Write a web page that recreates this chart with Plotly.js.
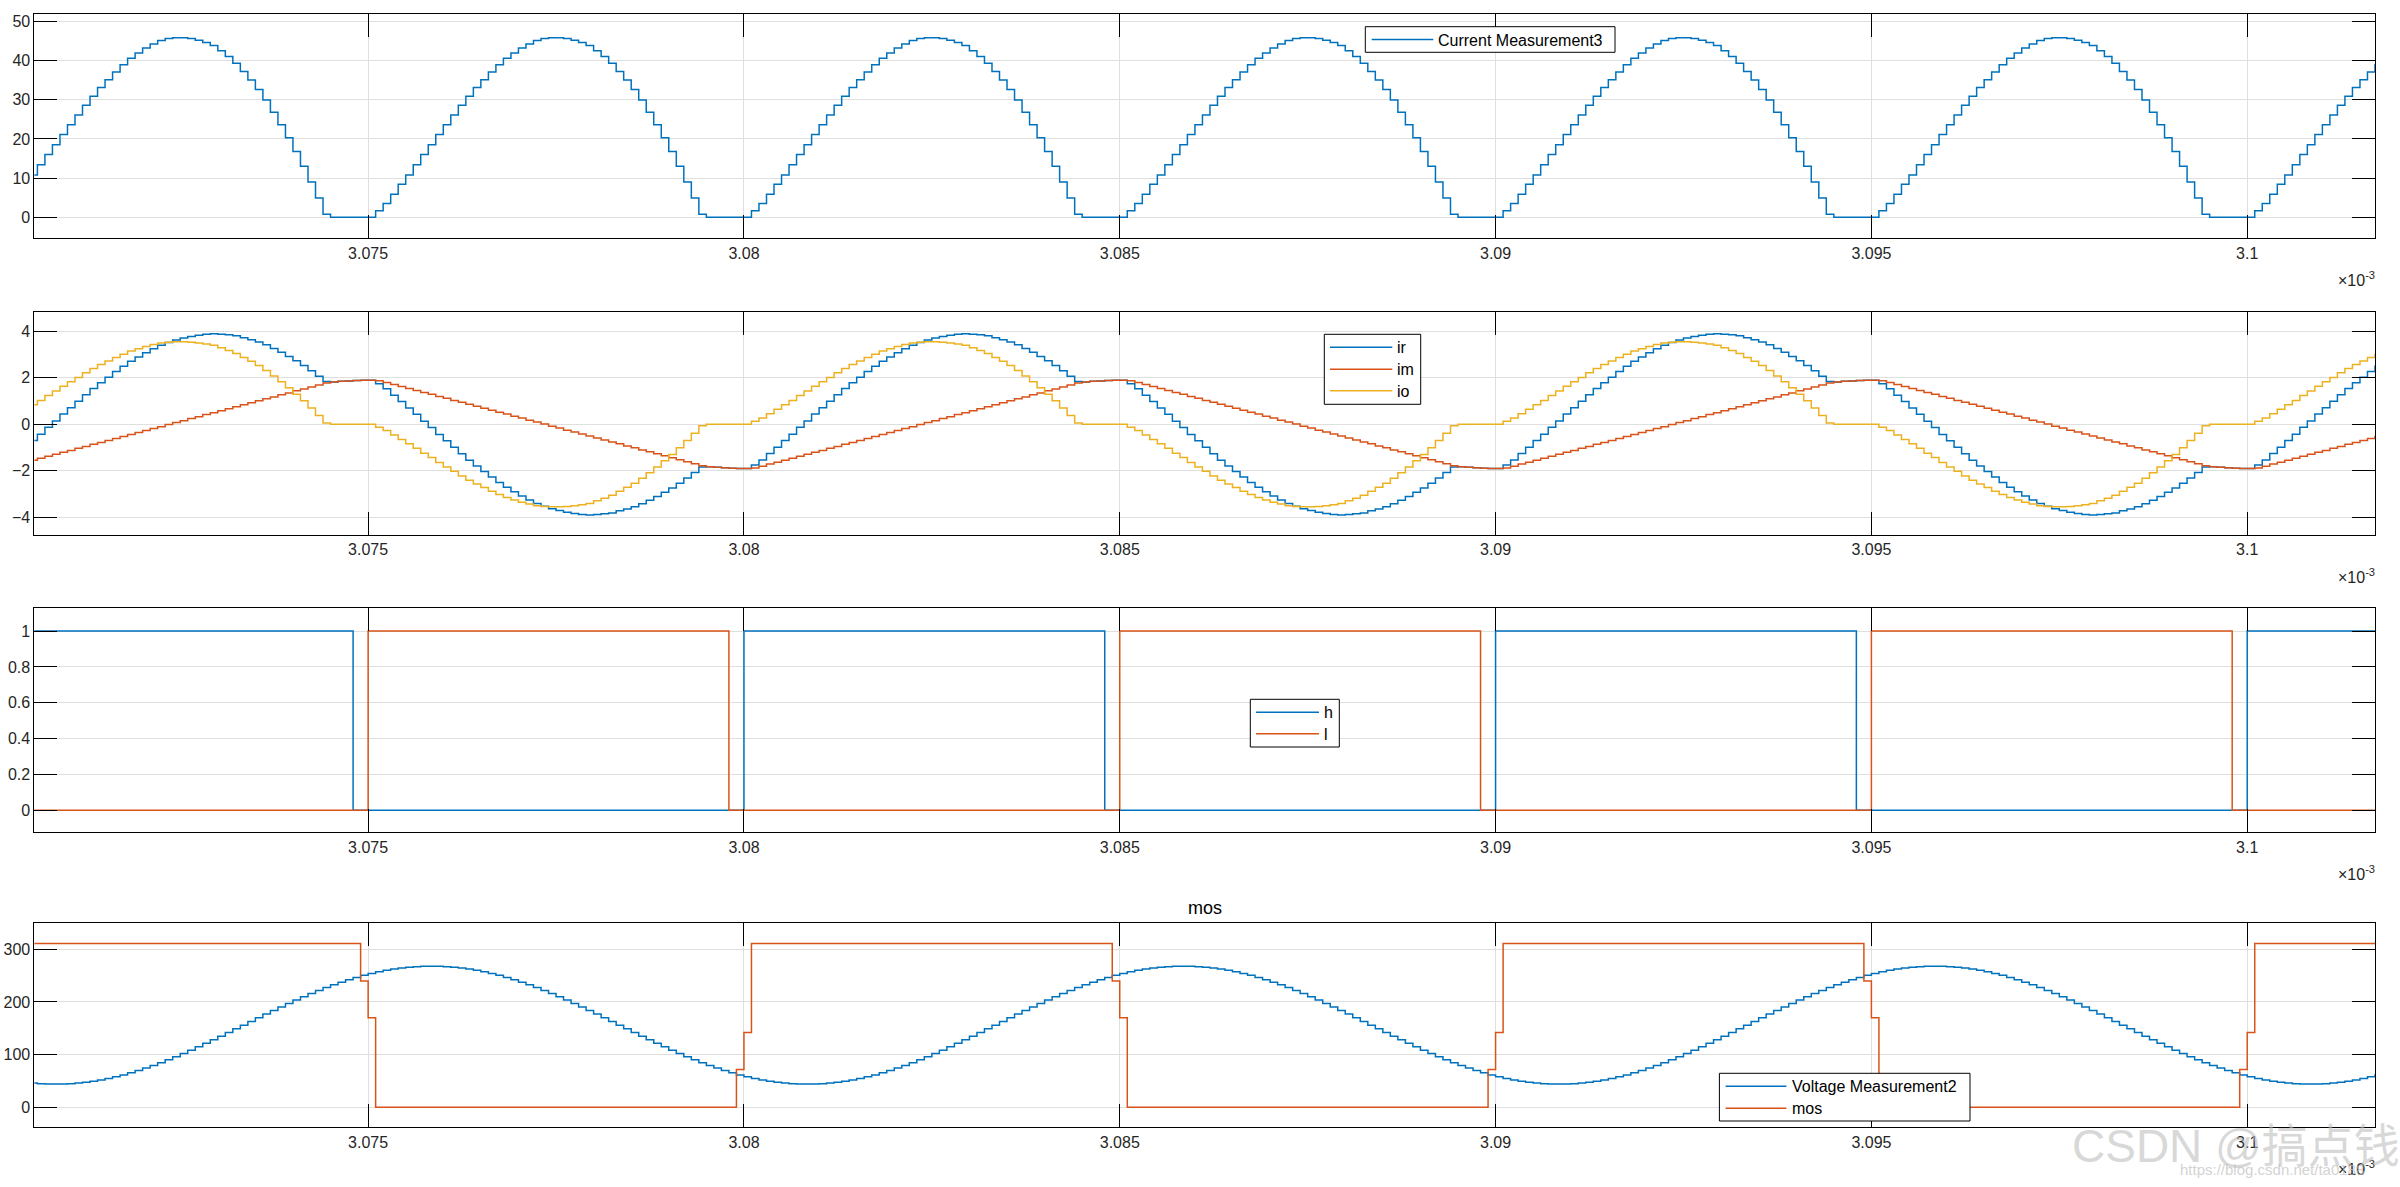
<!DOCTYPE html>
<html>
<head>
<meta charset="utf-8">
<script src="https://cdn.plot.ly/plotly-3.0.1.min.js"></script>
<style>html,body{margin:0;padding:0;background:#fff}#chart{width:2400px;height:1187px}</style>
</head>
<body>
<div id="chart"></div>
<script>
// ---------------- DATA ----------------
// time axis in units of 1e-3 s; waveforms are sampled every sampleStep
const sampleStep = 0.0001;
const timeFrom = 3.0700;
const timeTo = 3.1020;
const xTickVals = [3.075, 3.08, 3.085, 3.09, 3.095, 3.1];
const xTickText = ['3.075', '3.08', '3.085', '3.09', '3.095', '3.1'];

// one period of each staircase waveform, first sample at periodStart
const periodStart = 3.0701;
const currentMeas3Period = [1.7, 3.5, 5.9, 8.4, 10.8, 13.4, 16.0, 18.5, 21.1, 23.6, 26.1, 28.6, 30.9, 33.1, 35.1, 37.1, 38.9, 40.6, 41.9, 43.2, 44.2, 45.1, 45.6, 45.8, 45.8, 45.6, 45.2, 44.6, 43.8, 42.5, 41.0, 39.3, 37.2, 35.0, 32.6, 29.9, 26.8, 23.6, 20.3, 16.8, 13.0, 9.0, 4.9, 0.8, 0, 0, 0, 0, 0, 0];

const irPeriod = [-1.75, -1.53, -1.25, -0.98, -0.70, -0.43, -0.13, 0.14, 0.44, 0.71, 0.99, 1.27, 1.54, 1.79, 2.03, 2.27, 2.50, 2.71, 2.90, 3.08, 3.25, 3.40, 3.52, 3.63, 3.71, 3.78, 3.83, 3.88, 3.90, 3.88, 3.85, 3.81, 3.72, 3.64, 3.54, 3.42, 3.26, 3.10, 2.92, 2.74, 2.53, 2.31, 2.07, 1.84, 1.82, 1.85, 1.87, 1.89, 1.90, 1.90,
  1.75, 1.53, 1.25, 0.98, 0.70, 0.43, 0.13, -0.14, -0.44, -0.71, -0.99, -1.27, -1.54, -1.79, -2.03, -2.27, -2.50, -2.71, -2.90, -3.08, -3.25, -3.40, -3.52, -3.63, -3.71, -3.78, -3.83, -3.88, -3.90, -3.88, -3.85, -3.81, -3.72, -3.64, -3.54, -3.42, -3.26, -3.10, -2.92, -2.74, -2.53, -2.31, -2.07, -1.84, -1.82, -1.85, -1.87, -1.89, -1.90, -1.90];

const imPeriod = [-1.88, -1.80, -1.71, -1.63, -1.54, -1.46, -1.37, -1.29, -1.20, -1.12, -1.03, -0.95, -0.86, -0.78, -0.69, -0.61, -0.52, -0.44, -0.35, -0.27, -0.18, -0.10, -0.01, 0.08, 0.16, 0.25, 0.33, 0.42, 0.50, 0.59, 0.67, 0.76, 0.84, 0.93, 1.01, 1.10, 1.18, 1.27, 1.35, 1.44, 1.52, 1.61, 1.69, 1.78, 1.82, 1.85, 1.87, 1.89, 1.90, 1.90,
  1.88, 1.80, 1.71, 1.63, 1.54, 1.46, 1.37, 1.29, 1.20, 1.12, 1.03, 0.95, 0.86, 0.78, 0.69, 0.61, 0.52, 0.44, 0.35, 0.27, 0.18, 0.10, 0.01, -0.08, -0.16, -0.25, -0.33, -0.42, -0.50, -0.59, -0.67, -0.76, -0.84, -0.93, -1.01, -1.10, -1.18, -1.27, -1.35, -1.44, -1.52, -1.61, -1.69, -1.78, -1.82, -1.85, -1.87, -1.89, -1.90, -1.90];

const ioPeriod = [0.13, 0.27, 0.46, 0.65, 0.84, 1.03, 1.24, 1.43, 1.64, 1.83, 2.02, 2.22, 2.40, 2.57, 2.72, 2.88, 3.02, 3.15, 3.25, 3.35, 3.43, 3.50, 3.53, 3.55, 3.55, 3.53, 3.50, 3.46, 3.40, 3.29, 3.18, 3.05, 2.88, 2.71, 2.53, 2.32, 2.08, 1.83, 1.57, 1.30, 1.01, 0.70, 0.38, 0.06, 0, 0, 0, 0, 0, 0,
  -0.13, -0.27, -0.46, -0.65, -0.84, -1.03, -1.24, -1.43, -1.64, -1.83, -2.02, -2.22, -2.40, -2.57, -2.72, -2.88, -3.02, -3.15, -3.25, -3.35, -3.43, -3.50, -3.53, -3.55, -3.55, -3.53, -3.50, -3.46, -3.40, -3.29, -3.18, -3.05, -2.88, -2.71, -2.53, -2.32, -2.08, -1.83, -1.57, -1.30, -1.01, -0.70, -0.38, -0.06, 0, 0, 0, 0, 0, 0];

// Voltage Measurement2: one period, first sample at voltageStart
const voltageStart = 3.0708;
const voltageMeas2Period = [44.0, 44.2, 44.9, 46.0, 47.5, 49.5, 51.9, 54.7, 57.9, 61.4, 65.4, 69.7, 74.4, 79.3, 84.6, 90.2, 96.0, 102.0, 108.3, 114.8, 121.4, 128.1, 135.0, 142.0, 149.0, 156.0, 163.0, 170.0, 177.0, 183.9, 190.6, 197.2, 203.7, 210.0, 216.0, 221.8, 227.4, 232.7, 237.6, 242.3, 246.6, 250.6, 254.1, 257.3, 260.1, 262.5, 264.5, 266.0, 267.1, 267.8, 268.0,
  267.8, 267.1, 266.0, 264.5, 262.5, 260.1, 257.3, 254.1, 250.6, 246.6, 242.3, 237.6, 232.7, 227.4, 221.8, 216.0, 210.0, 203.7, 197.2, 190.6, 183.9, 177.0, 170.0, 163.0, 156.0, 149.0, 142.0, 135.0, 128.1, 121.4, 114.8, 108.3, 102.0, 96.0, 90.2, 84.6, 79.3, 74.4, 69.7, 65.4, 61.4, 57.9, 54.7, 51.9, 49.5, 47.5, 46.0, 44.9, 44.2];

// gate signals: switching instants and the level held from each instant
const hTimes = [3.0700, 3.0748, 3.0800, 3.0848, 3.0900, 3.0948, 3.1000, 3.1020];
const hLevels = [1, 0, 1, 0, 1, 0, 1, 1];
const lTimes = [3.0700, 3.0750, 3.0798, 3.0850, 3.0898, 3.0950, 3.0998, 3.1020];
const lLevels = [0, 1, 0, 1, 0, 1, 0, 0];

// mos voltage: instants and held levels
const mosTimes = [3.0700, 3.0749, 3.0750, 3.0751, 3.0799, 3.0800, 3.0801, 3.0849, 3.0850, 3.0851, 3.0899, 3.0900, 3.0901, 3.0949, 3.0950, 3.0951, 3.0999, 3.1000, 3.1001, 3.1020];
const mosLevels = [311, 240, 170, 0, 72, 142, 311, 240, 170, 0, 72, 142, 311, 240, 170, 0, 72, 142, 311, 311];

// ---------------- helpers ----------------
function repeatPeriod(vals, start) {
  const n = vals.length, x = [], y = [];
  const k0 = Math.floor((timeFrom - start) / sampleStep + 1e-6);
  const k1 = Math.ceil((timeTo - start) / sampleStep - 1e-6);
  for (let k = k0; k <= k1; k++) {
    x.push(+(start + k * sampleStep).toFixed(6));
    y.push(vals[((k % n) + n) % n]);
  }
  return {x, y};
}

const W = 2400, H = 1187;
const PX = v => v / W;
const PY = v => 1 - v / H;
const LEFT = 34.4, RIGHT = 2375;
const boxes = [[14.3, 238.3], [312.3, 535], [608.3, 832.3], [923.3, 1127.3]];

const BLUE = '#0072BD', ORANGE = '#D95319', YELLOW = '#EDB120';
const FONT = 'Liberation Sans, Arial, Helvetica, sans-serif';

function stepTrace(d, color, name, ax) {
  return {x: d.x, y: d.y, type: 'scatter', mode: 'lines', name: name,
    line: {color: color, width: 1.5, shape: 'hv'}, xaxis: 'x' + ax, yaxis: 'y' + ax,
    showlegend: false, hoverinfo: 'skip'};
}

const cm3 = repeatPeriod(currentMeas3Period, periodStart);
const ir = repeatPeriod(irPeriod, periodStart);
const im = repeatPeriod(imPeriod, periodStart);
const io = repeatPeriod(ioPeriod, periodStart);
const vm2 = repeatPeriod(voltageMeas2Period, voltageStart);

const traces = [
  stepTrace(cm3, BLUE, 'Current Measurement3', ''),
  stepTrace(ir, BLUE, 'ir', '2'),
  stepTrace(im, ORANGE, 'im', '2'),
  stepTrace(io, YELLOW, 'io', '2'),
  stepTrace({x: hTimes, y: hLevels}, BLUE, 'h', '3'),
  stepTrace({x: lTimes, y: lLevels}, ORANGE, 'l', '3'),
  stepTrace(vm2, BLUE, 'Voltage Measurement2', '4'),
  stepTrace({x: mosTimes, y: mosLevels}, ORANGE, 'mos', '4')
];
traces[0].xaxis = 'x'; traces[0].yaxis = 'y';

const yRanges = [[-5.36, 51.79], [-4.76, 4.82], [-0.123, 1.127], [-38, 349.4]];
const yTicks = [[0, 10, 20, 30, 40, 50], [-4, -2, 0, 2, 4], [0, 0.2, 0.4, 0.6, 0.8, 1], [0, 100, 200, 300]];

const layout = {
  width: W, height: H,
  margin: {l: 0, r: 0, t: 0, b: 0},
  paper_bgcolor: '#fff', plot_bgcolor: '#fff',
  font: {family: FONT, size: 16, color: '#262626'},
  showlegend: false,
  shapes: [], annotations: []
};

function axisCommon() {
  return {
    ticks: 'inside', ticklen: 23, tickwidth: 1, tickcolor: '#000',
    showline: true, linecolor: '#000', linewidth: 1, mirror: 'ticks',
    showgrid: true, gridcolor: '#dfdfdf', gridwidth: 1, zeroline: false,
    tickfont: {family: FONT, size: 16, color: '#262626'},
    fixedrange: true, automargin: false
  };
}

for (let i = 0; i < 4; i++) {
  const s = i === 0 ? '' : String(i + 1);
  layout['xaxis' + s] = Object.assign(axisCommon(), {
    domain: [PX(LEFT), PX(RIGHT)], range: [3.07056, 3.1017],
    tickmode: 'array', tickvals: xTickVals, ticktext: xTickText,
    anchor: 'y' + s
  });
  layout['yaxis' + s] = Object.assign(axisCommon(), {
    domain: [PY(boxes[i][1]), PY(boxes[i][0])], range: yRanges[i],
    tickmode: 'array', tickvals: yTicks[i],
    anchor: 'x' + s
  });
  layout.annotations.push({
    xref: 'paper', yref: 'paper', x: PX(RIGHT + 2), y: PY(boxes[i][1] + 41),
    xanchor: 'right', yanchor: 'middle', showarrow: false,
    text: '×10<sup>-3</sup>', font: {family: FONT, size: 16, color: '#262626'}
  });
}

// subplot title
layout.annotations.push({
  xref: 'paper', yref: 'paper', x: PX((LEFT + RIGHT) / 2), y: PY(908),
  xanchor: 'center', yanchor: 'middle', showarrow: false,
  text: 'mos', font: {family: FONT, size: 18, color: '#000'}
});

// MATLAB-style legends
function legendBox(x0, y0, x1, y1, lineX0, lineX1, textX, items) {
  layout.shapes.push({type: 'rect', xref: 'paper', yref: 'paper', x0: PX(x0), x1: PX(x1), y0: PY(y1), y1: PY(y0),
    line: {color: '#000', width: 1}, fillcolor: '#fff', layer: 'above'});
  items.forEach(it => {
    layout.shapes.push({type: 'line', xref: 'paper', yref: 'paper', x0: PX(lineX0), x1: PX(lineX1), y0: PY(it.y), y1: PY(it.y),
      line: {color: it.color, width: 1.5}, layer: 'above'});
    layout.annotations.push({xref: 'paper', yref: 'paper', x: PX(textX), y: PY(it.y + 0.5),
      xanchor: 'left', yanchor: 'middle', showarrow: false, text: it.name,
      font: {family: FONT, size: 16, color: '#000'}});
  });
}
legendBox(1365.3, 26.7, 1615, 52.3, 1371.7, 1433.3, 1436, [{y: 39.5, color: BLUE, name: 'Current Measurement3'}]);
legendBox(1324.3, 334.3, 1420.7, 404.3, 1330, 1392.3, 1394.5, [
  {y: 347.3, color: BLUE, name: 'ir'}, {y: 369.3, color: ORANGE, name: 'im'}, {y: 390.7, color: YELLOW, name: 'io'}]);
legendBox(1250.3, 699.3, 1339.3, 747, 1256, 1319, 1322, [
  {y: 712.3, color: BLUE, name: 'h'}, {y: 733.7, color: ORANGE, name: 'l'}]);
legendBox(1719.4, 1073.3, 1970, 1121, 1725.6, 1786.4, 1790, [
  {y: 1086.3, color: BLUE, name: 'Voltage Measurement2'}, {y: 1108.3, color: ORANGE, name: 'mos'}]);

// watermark
layout.annotations.push({xref: 'paper', yref: 'paper', x: PX(2236), y: PY(1146),
  xanchor: 'center', yanchor: 'middle', showarrow: false, text: 'CSDN @搞点钱',
  font: {family: 'Liberation Sans, Noto Sans CJK SC, sans-serif', size: 46, color: 'rgba(190,190,190,0.6)'}});
layout.annotations.push({xref: 'paper', yref: 'paper', x: PX(2178), y: PY(1169),
  xanchor: 'left', yanchor: 'middle', showarrow: false, text: 'https://blog.csdn.net/ta0188',
  font: {family: FONT, size: 15, color: 'rgba(190,190,190,0.7)'}});

Plotly.newPlot('chart', traces, layout, {staticPlot: true, displayModeBar: false});
</script>
</body>
</html>
